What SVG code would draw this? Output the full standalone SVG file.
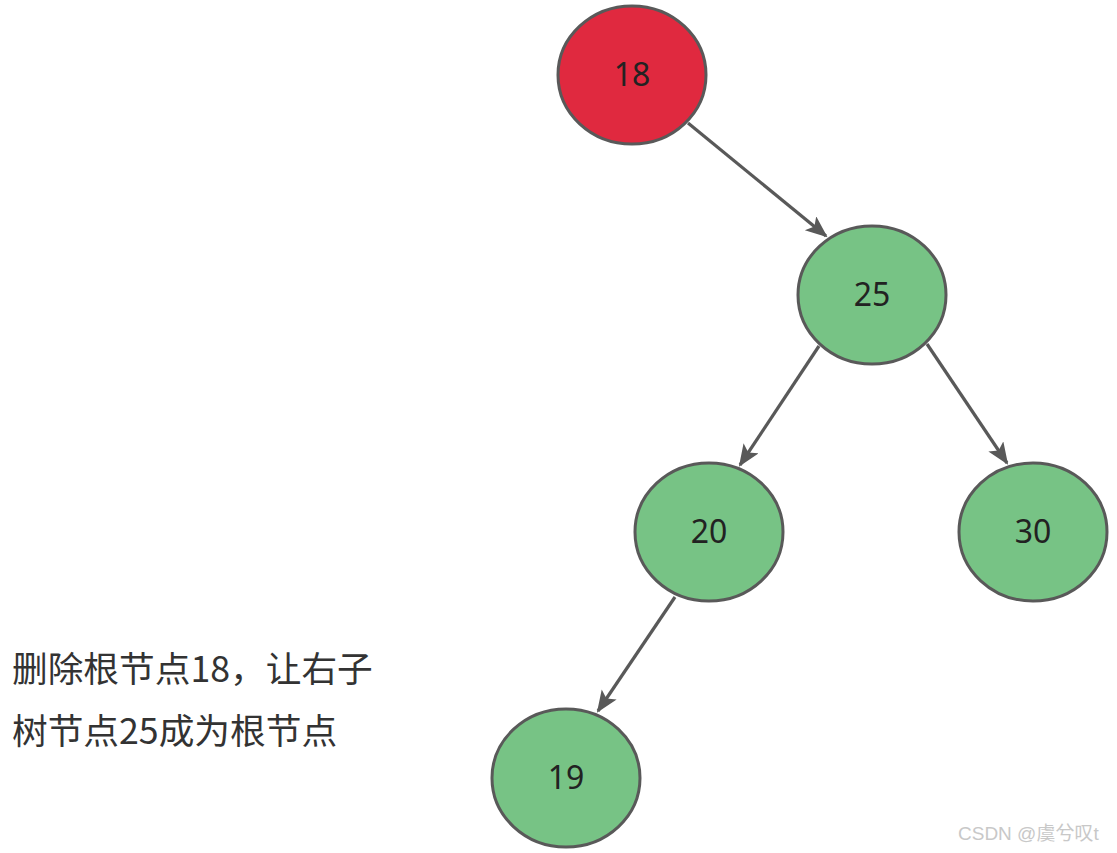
<svg xmlns="http://www.w3.org/2000/svg" width="1117" height="853" viewBox="0 0 1117 853">
<style>
.n ellipse{stroke:#595959;stroke-width:3}
.red{fill:#E0293F}
.green{fill:#77C385}
.lbl{font-family:"Noto Sans","Noto Sans CJK SC",sans-serif;font-size:32px;fill:#222;text-anchor:middle}
.e{stroke:#595959;stroke-width:3.2;fill:none;marker-end:url(#ah)}
.cap{font-family:"Noto Sans CJK SC","Noto Sans",sans-serif;font-size:35.7px;fill:#333}
.wm{font-family:"Liberation Sans","Noto Sans CJK SC",sans-serif;font-size:19px;fill:#c8c8c8}
</style>
<defs>
<marker id="ah" markerUnits="userSpaceOnUse" markerWidth="24" markerHeight="20" refX="20" refY="9" orient="auto">
<path d="M0,0 L22,9 L0,18 L5,9 Z" fill="#595959"/>
</marker>
</defs>
<g id="connectors">
<line class="e" x1="688" y1="123" x2="826" y2="236"/>
<line class="e" x1="819" y1="346" x2="740" y2="465"/>
<line class="e" x1="927" y1="344" x2="1007" y2="463"/>
<line class="e" x1="675" y1="597" x2="598" y2="711"/>
</g>
<g id="n18" class="n"><ellipse class="red" cx="632" cy="75" rx="74" ry="69"/><text class="lbl" x="632" y="86">18</text></g>
<g id="n25" class="n"><ellipse class="green" cx="872" cy="295" rx="74" ry="69"/><text class="lbl" x="872" y="306">25</text></g>
<g id="n20" class="n"><ellipse class="green" cx="709" cy="532" rx="74" ry="69"/><text class="lbl" x="709" y="543">20</text></g>
<g id="n30" class="n"><ellipse class="green" cx="1033" cy="532" rx="74" ry="69"/><text class="lbl" x="1033" y="543">30</text></g>
<g id="n19" class="n"><ellipse class="green" cx="566" cy="778" rx="74" ry="69"/><text class="lbl" x="566" y="789">19</text></g>
<g id="caption">
<text class="cap" x="12" y="682">删除根节点18，让右子</text>
<text class="cap" x="12" y="744">树节点25成为根节点</text>
</g>
<text class="wm" x="958" y="840">CSDN @虞兮叹t</text>
</svg>
